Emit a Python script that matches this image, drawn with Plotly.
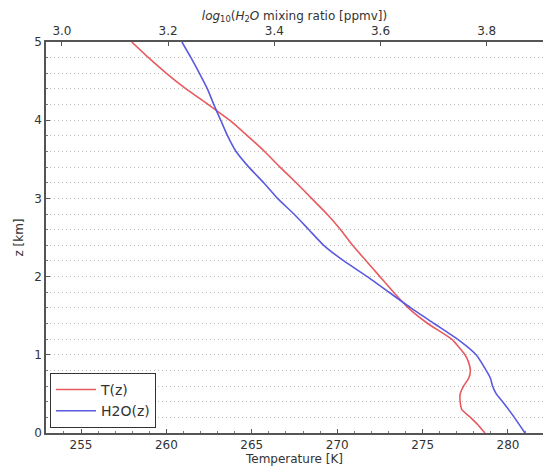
import plotly.graph_objects as go

# altitude levels [km]
z_t = [5.0, 4.8, 4.6, 4.4, 4.2, 4.0, 3.8, 3.6, 3.4, 3.2, 3.0, 2.8, 2.6, 2.4, 2.2,
       2.0, 1.8, 1.6, 1.4, 1.2, 1.0, 0.9, 0.8, 0.7, 0.6, 0.5, 0.4, 0.3, 0.2, 0.1, 0.0]
# temperature [K]
temp = [257.97, 258.95, 260.0, 261.15, 262.45, 263.7, 264.75, 265.75, 266.65, 267.6,
        268.5, 269.4, 270.2, 270.9, 271.7, 272.5, 273.3, 274.16, 275.3, 276.7,
        277.48, 277.7, 277.8, 277.7, 277.4, 277.2, 277.2, 277.3, 277.8, 278.26, 278.65]

z_w = [5.0, 4.8, 4.6, 4.4, 4.2, 4.0, 3.8, 3.6, 3.4, 3.2, 3.0, 2.8, 2.6, 2.4, 2.2,
       2.0, 1.8, 1.6, 1.4, 1.2, 1.0, 0.8, 0.7, 0.6, 0.5, 0.4, 0.2, 0.0]
# log10 of H2O mixing ratio [ppmv]
h2o = [3.226, 3.243, 3.259, 3.274, 3.286, 3.299, 3.312, 3.328, 3.352, 3.380, 3.406,
       3.437, 3.465, 3.493, 3.531, 3.575, 3.616, 3.657, 3.701, 3.745, 3.780, 3.799,
       3.807, 3.811, 3.818, 3.830, 3.852, 3.872]

t_ticks = [255, 260, 265, 270, 275, 280]
w_ticks = [3.0, 3.2, 3.4, 3.6, 3.8]

fig = go.Figure()
fig.add_trace(go.Scatter(x=temp, y=z_t, mode="lines", name="T(z)",
                         line=dict(color="#e85a5f", width=1.6, shape="spline", smoothing=0.5)))
fig.add_trace(go.Scatter(x=h2o, y=z_w, mode="lines", name="H2O(z)", xaxis="x2",
                         line=dict(color="#5a5ae0", width=1.6, shape="spline", smoothing=0.5)))

tickfont = dict(family="DejaVu Sans", size=12, color="#333333")
grid = "#bdbdbd"
fig.update_layout(
    width=543, height=472,
    margin=dict(l=46, r=0, t=42, b=39, autoexpand=False),
    plot_bgcolor="white", paper_bgcolor="white",
    font=dict(family="DejaVu Sans", color="#333333"),
    showlegend=True,
    legend=dict(x=0.008, y=0.013, xanchor="left", yanchor="bottom",
                bordercolor="#333333", borderwidth=1, bgcolor="white",
                font=dict(size=14, color="#333333"), tracegroupgap=0, itemwidth=40),
    xaxis=dict(range=[252.95, 282.05], tickvals=t_ticks, ticks="inside", ticklen=4,
               tickcolor="#555555", showline=True, linecolor="#555555", linewidth=1.5,
               showgrid=False, zeroline=False, tickfont=tickfont, automargin=False,
               minor=dict(ticks="inside", dtick=1, ticklen=2, tickcolor="#777777"),
               title=dict(text="Temperature [K]", font=dict(size=12), standoff=0)),
    xaxis2=dict(range=[2.970, 3.906], tickvals=w_ticks, tickformat=".1f",
                overlaying="x", side="top", ticks="inside", ticklen=4,
                tickcolor="#555555", showline=True, linecolor="#555555", linewidth=1.5,
                showgrid=False, zeroline=False, tickfont=tickfont, automargin=False,
                title=dict(text="<i>log</i><sub>10</sub>(<i>H</i><sub>2</sub><i>O</i> mixing ratio [ppmv])",
                           font=dict(size=12), standoff=0)),
    yaxis=dict(range=[0, 5], dtick=1, ticks="inside", ticklen=4, tickcolor="#555555",
               showline=True, linecolor="#555555", linewidth=1.5, zeroline=False,
               showgrid=True, griddash="1px,3px", gridcolor=grid, gridwidth=1,
               tickfont=tickfont, automargin=False,
               minor=dict(dtick=0.2, showgrid=True, griddash="1px,3px", gridcolor=grid,
                          ticks="inside", ticklen=2, tickcolor="#777777"),
               title=dict(text="z [km]", font=dict(size=12), standoff=8)),
)

# drop the browser's default body margin so the figure sits at the page corner
fig.write_html("out.html", config={"displayModeBar": False},
               post_script="document.body.style.margin='0';")
